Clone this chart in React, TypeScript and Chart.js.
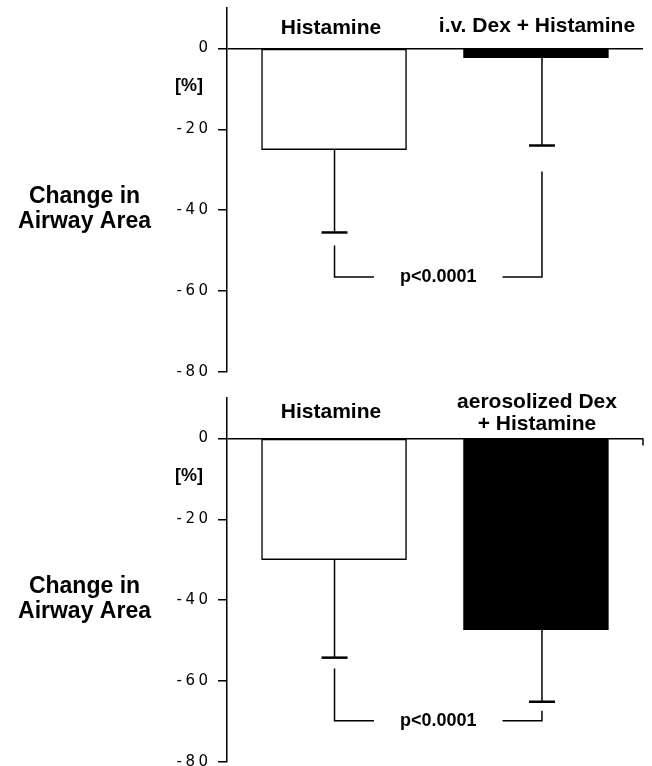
import React, { useEffect, useRef } from 'react';
import { Chart, registerables } from 'chart.js';

Chart.register(...registerables);

// ---------- data ----------
const barPositions = [1, 2];
const yTickValues = [-80, -60, -40, -20, 0];
const yAxisTitle = ['Change in', 'Airway Area'];
const yUnit = '[%]';
const pValueLabel = 'p<0.0001';

// upper panel: histamine vs i.v. dexamethasone + histamine
const topLabels = [['Histamine'], ['i.v. Dex + Histamine']];
const topMeans = [-25, -2.3];
const topErrorEnds = [-45.5, -24];
const topBracket = [-56.5, -48.7, -30.4]; // level, left start, right start

// lower panel: histamine vs aerosolized dexamethasone + histamine
const bottomLabels = [['Histamine'], ['aerosolized Dex', '+ Histamine']];
const bottomMeans = [-30, -47.3];
const bottomErrorEnds = [-54.2, -65.1];
const bottomBracket = [-69.8, -56.9, -67.3];

// ---------- styles / layout ----------
const FILLS = ['#ffffff', '#000000'];
const LABEL_FONT = 'bold 21px "Liberation Sans", Arial, sans-serif';
const TITLE_FONT = 'bold 23px "Liberation Sans", Arial, sans-serif';
const UNIT_FONT = 'bold 18px "Liberation Sans", Arial, sans-serif';
const P_FONT = 'bold 18px "Liberation Sans", Arial, sans-serif';

type PanelCfg = {
  labels: string[][];
  means: number[];
  errorEnds: number[];
  bracket: number[];
  padTop: number;
  padBottom: number;
  labelBaselines: number[][]; // px offsets from the zero line
  endTick: boolean;
};

const line = (ctx: CanvasRenderingContext2D, pts: number[][]) => {
  ctx.beginPath();
  ctx.moveTo(pts[0][0], pts[0][1]);
  for (let i = 1; i < pts.length; i++) ctx.lineTo(pts[i][0], pts[i][1]);
  ctx.stroke();
};

const annotatePlugin = {
  id: 'annotate',
  beforeDraw(chart: any) {
    (chart.ctx as any).letterSpacing = '3.5px';
  },
  beforeDatasetsDraw(chart: any) {
    (chart.ctx as any).letterSpacing = '0px';
  },
  afterDatasetsDraw(chart: any, _args: any, opts: any) {
    const cfg: PanelCfg = opts.cfg;
    const ctx: CanvasRenderingContext2D = chart.ctx;
    const y = chart.scales.y;
    const area = chart.chartArea;
    const meta = chart.getDatasetMeta(0);
    const errDx = [0.5, 6];
    const y0 = y.getPixelForValue(0);
    ctx.save();
    (ctx as any).letterSpacing = '0px';
    ctx.strokeStyle = '#000';
    ctx.fillStyle = '#000';
    ctx.lineCap = 'butt';

    // error bars (one-sided, downward)
    const ex: number[] = [];
    meta.data.forEach((bar: any, i: number) => {
      const x = bar.x + errDx[i];
      ex.push(x);
      const ey = y.getPixelForValue(cfg.errorEnds[i]);
      ctx.lineWidth = 1.5;
      line(ctx, [[x, bar.y], [x, ey]]);
      ctx.lineWidth = 2.5;
      line(ctx, [[x - 13, ey], [x + 13, ey]]);
    });

    // end tick on zero line
    if (cfg.endTick) {
      ctx.lineWidth = 1.5;
      line(ctx, [[area.right, y0], [area.right, y0 + 7]]);
    }

    // significance bracket
    const [lvl, lStart, rStart] = cfg.bracket;
    const by = y.getPixelForValue(lvl);
    const ly = y.getPixelForValue(lStart);
    const ry = y.getPixelForValue(rStart);
    ctx.font = P_FONT;
    const tw = ctx.measureText(pValueLabel).width;
    const cx = (ex[0] + ex[1]) / 2;
    const gap = 26;
    ctx.lineWidth = 1.5;
    line(ctx, [[ex[0], ly], [ex[0], by], [cx - tw / 2 - gap, by]]);
    line(ctx, [[cx + tw / 2 + gap, by], [ex[1], by], [ex[1], ry]]);
    ctx.textAlign = 'center';
    ctx.textBaseline = 'alphabetic';
    ctx.fillText(pValueLabel, cx, by + 5.5);

    // category labels above bars
    ctx.font = LABEL_FONT;
    const labelDx = [-3, 1];
    meta.data.forEach((bar: any, i: number) => {
      cfg.labels[i].forEach((t, j) => {
        ctx.fillText(t, bar.x + labelDx[i], y0 + cfg.labelBaselines[i][j]);
      });
    });

    // y title and unit
    ctx.font = TITLE_FONT;
    ctx.fillText(yAxisTitle[0], 84.5, y0 + 154.5);
    ctx.fillText(yAxisTitle[1], 84.5, y0 + 180);
    ctx.font = UNIT_FONT;
    ctx.textBaseline = 'middle';
    ctx.fillText(yUnit, 189, y0 + 37.5);
    ctx.restore();
  },
};

function Panel({ top, cfg }: { top: number; cfg: PanelCfg }) {
  const ref = useRef<HTMLCanvasElement>(null);
  useEffect(() => {
    const chart = new Chart(ref.current as HTMLCanvasElement, {
      type: 'bar',
      data: {
        datasets: [
          {
            data: barPositions.map((p, i) => ({ x: p, y: cfg.means[i] })) as any,
            backgroundColor: FILLS,
            borderColor: '#000',
            borderWidth: 1.5,
            borderSkipped: false,
            barThickness: 145,
          },
        ],
      },
      options: {
        animation: false,
        responsive: false,
        layout: { padding: { left: 0, right: 9, top: cfg.padTop, bottom: cfg.padBottom } },
        plugins: {
          legend: { display: false },
          tooltip: { enabled: false },
          annotate: { cfg },
        } as any,
        scales: {
          x: { type: 'linear', display: false, offset: false, min: 0.47, max: 2.53 },
          y: {
            min: -80,
            max: 10,
            afterBuildTicks: (s: any) => {
              s.ticks = yTickValues.map((v) => ({ value: v }));
            },
            afterFit: (s: any) => {
              s.width = 227;
              s.paddingTop = 0;
              s.paddingBottom = 0;
            },
            border: { display: true, color: '#000', width: 1.5 },
            grid: {
              drawOnChartArea: true,
              color: (c: any) => (c.tick && c.tick.value === 0 ? '#000' : 'rgba(0,0,0,0)'),
              tickColor: '#000',
              lineWidth: 1.5,
              tickLength: 9,
            },
            ticks: {
              color: '#000',
              padding: 6.5,
              font: { family: '"DejaVu Sans", sans-serif', size: 15 },
              callback: (v: any) => String(v),
            },
          },
        },
      },
      plugins: [annotatePlugin],
    });
    return () => chart.destroy();
  }, []);
  return (
    <canvas
      ref={ref}
      width={652}
      height={383}
      style={{ position: 'absolute', left: 0, top, width: 652, height: 383 }}
    />
  );
}

const topCfg: PanelCfg = {
  labels: topLabels,
  means: topMeans,
  errorEnds: topErrorEnds,
  bracket: topBracket,
  padTop: 8,
  padBottom: 11,
  labelBaselines: [[-14], [-16]],
  endTick: false,
};

const bottomCfg: PanelCfg = {
  labels: bottomLabels,
  means: bottomMeans,
  errorEnds: bottomErrorEnds,
  bracket: bottomBracket,
  padTop: 15,
  padBottom: 4,
  labelBaselines: [[-20], [-30, -8]],
  endTick: true,
};

export default function App() {
  return (
    <div
      style={{
        position: 'fixed',
        left: 0,
        top: 0,
        width: 652,
        height: 766,
        background: '#fff',
        overflow: 'hidden',
      }}
    >
      <Panel top={0} cfg={topCfg} />
      <Panel top={383} cfg={bottomCfg} />
    </div>
  );
}
